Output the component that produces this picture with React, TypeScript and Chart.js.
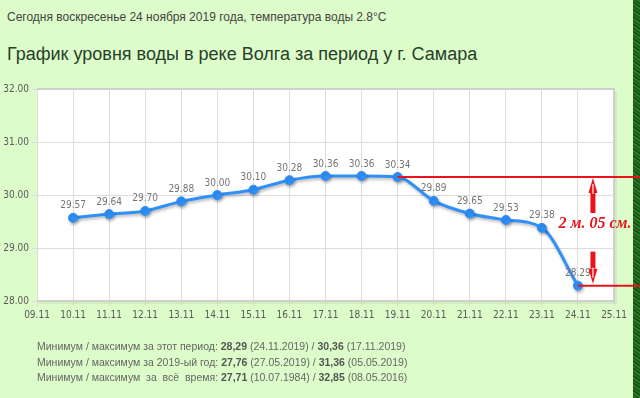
import React, { useEffect, useRef } from "react";
import { Chart, registerables } from "chart.js";

Chart.register(...registerables);

const dates = ["09.11", "10.11", "11.11", "12.11", "13.11", "14.11", "15.11", "16.11", "17.11", "18.11", "19.11", "20.11", "21.11", "22.11", "23.11", "24.11", "25.11"];
const levels: (number | null)[] = [null, 29.57, 29.64, 29.7, 29.88, 30.0, 30.1, 30.28, 30.36, 30.36, 30.34, 29.89, 29.65, 29.53, 29.38, 28.29, null];
const yMin = 28;
const yMax = 32;
const dropFromIndex = 10;
const dropToIndex = 15;
const dropLabel = "2 м. 05 см.";

const headerText = "Сегодня воскресенье 24 ноября 2019 года, температура воды 2.8°C";
const titleText = "График уровня воды в реке Волга за период у г. Самара";
const statLabels = ["Минимум / максимум за этот период: ", "Минимум / максимум за 2019-ый год: ", "Минимум / максимум  за  всё  время: "];
const statMins = ["28,29", "27,76", "27,71"];
const statMinDates = ["24.11.2019", "27.05.2019", "10.07.1984"];
const statMaxs = ["30,36", "31,36", "32,85"];
const statMaxDates = ["17.11.2019", "05.05.2019", "08.05.2016"];

const TICK_FONT = "'DejaVu Sans Condensed', 'Liberation Sans Narrow', 'DejaVu Sans', sans-serif";
const LINE_COLOR = "#2f90fa";

export default function App() {
  const canvasRef = useRef<HTMLCanvasElement | null>(null);

  useEffect(() => {
    const canvas = canvasRef.current;
    if (!canvas) return;

    const plotPlugin = {
      id: "plotDecor",
      beforeDraw(chart: any) {
        const { ctx, chartArea: a } = chart;
        ctx.save();
        ctx.fillStyle = "#ffffff";
        ctx.fillRect(a.left, a.top, a.right - a.left, a.bottom - a.top);
        ctx.restore();
      },
      beforeDatasetsDraw(chart: any) {
        const ctx = chart.ctx;
        ctx.save();
        ctx.shadowColor = "rgba(0,0,0,0.28)";
        ctx.shadowBlur = 3;
        ctx.shadowOffsetX = 1;
        ctx.shadowOffsetY = 2;
      },
      afterDatasetsDraw(chart: any) {
        const ctx = chart.ctx;
        ctx.restore();
        const meta = chart.getDatasetMeta(0);
        ctx.save();
        ctx.font = "10px " + TICK_FONT;
        ctx.fillStyle = "#757575";
        ctx.textAlign = "center";
        ctx.textBaseline = "middle";
        meta.data.forEach((pt: any, i: number) => {
          const v = levels[i];
          if (v === null || v === undefined) return;
          ctx.fillText(v.toFixed(2), pt.x, pt.y - 12);
        });
        ctx.restore();
      },
      afterDraw(chart: any) {
        const { ctx, chartArea: a, scales } = chart;
        ctx.save();
        // frame
        ctx.strokeStyle = "#cfcfcf";
        ctx.lineWidth = 2;
        ctx.beginPath();
        ctx.moveTo(a.left, a.top);
        ctx.lineTo(a.right, a.top);
        ctx.lineTo(a.right, a.bottom);
        ctx.lineTo(a.left, a.bottom);
        ctx.stroke();
        ctx.strokeStyle = "rgba(0,0,0,0.06)";
        ctx.lineWidth = 2;
        ctx.beginPath();
        ctx.moveTo(a.right + 2, a.top + 2);
        ctx.lineTo(a.right + 2, a.bottom + 2);
        ctx.lineTo(a.left + 2, a.bottom + 2);
        ctx.stroke();

        // red annotation
        const xs = scales.x;
        const ys = scales.y;
        const x1 = xs.getPixelForValue(dropFromIndex);
        const x2 = xs.getPixelForValue(dropToIndex);
        const yTop = ys.getPixelForValue(levels[dropFromIndex] as number);
        const yBot = ys.getPixelForValue(levels[dropToIndex] as number);
        const W = chart.width;
        const red = "#e8141c";
        ctx.strokeStyle = red;
        ctx.lineWidth = 2;
        ctx.beginPath();
        ctx.moveTo(x1, yTop);
        ctx.lineTo(W, yTop);
        ctx.moveTo(x2, yBot);
        ctx.lineTo(W, yBot);
        ctx.stroke();

        const ax = x2 + 15;
        const drawArrow = (tipY: number, tailY: number) => {
          const dir = tailY > tipY ? 1 : -1;
          const headLen = 15;
          ctx.fillStyle = red;
          ctx.fillRect(ax - 2.5, Math.min(tipY + dir * headLen, tailY), 5, Math.abs(tailY - (tipY + dir * headLen)));
          ctx.beginPath();
          ctx.moveTo(ax, tipY);
          ctx.lineTo(ax - 4.5, tipY + dir * headLen);
          ctx.lineTo(ax + 4.5, tipY + dir * headLen);
          ctx.closePath();
          ctx.fill();
          ctx.strokeStyle = "rgba(255,255,255,0.95)";
          ctx.lineWidth = 1.2;
          ctx.beginPath();
          ctx.moveTo(ax, tipY + dir * 6);
          ctx.lineTo(ax, tipY + dir * (headLen + 1));
          ctx.stroke();
        };
        drawArrow(yTop + 1, yTop + 36);
        drawArrow(yBot - 2, yBot - 34);

        ctx.fillStyle = red;
        ctx.font = "italic bold 16px 'Liberation Serif', 'Times New Roman', serif";
        ctx.textAlign = "center";
        ctx.textBaseline = "alphabetic";
        ctx.fillText(dropLabel, ax + 2, (yTop + yBot) / 2 - 3);
        ctx.restore();
      },
    };

    const chart = new Chart(canvas, {
      type: "line",
      data: {
        labels: dates,
        datasets: [
          {
            data: levels,
            borderColor: LINE_COLOR,
            backgroundColor: LINE_COLOR,
            borderWidth: 3,
            pointRadius: 4.5,
            pointBackgroundColor: LINE_COLOR,
            pointBorderColor: LINE_COLOR,
            pointBorderWidth: 1,
            cubicInterpolationMode: "monotone",
            fill: false,
            spanGaps: false,
          },
        ],
      },
      options: {
        responsive: false,
        animation: false,
        layout: { padding: { top: 89, right: 26, bottom: 75, left: 0 } },
        plugins: { legend: { display: false }, tooltip: { enabled: false } },
        scales: {
          x: {
            type: "category",
            offset: false,
            afterFit: (s: any) => {
              s.height = 22;
            },
            grid: { color: "#dddddd", lineWidth: 1, tickLength: 5, drawTicks: true },
            border: { display: false },
            ticks: {
              autoSkip: false,
              maxRotation: 0,
              minRotation: 0,
              padding: 3,
              color: "#5a5a5a",
              font: { family: TICK_FONT, size: 10 },
            },
          },
          y: {
            min: yMin,
            max: yMax,
            afterFit: (s: any) => {
              s.width = 37;
            },
            grid: { color: "#dddddd", lineWidth: 1, tickLength: 5, drawTicks: true },
            border: { display: false },
            ticks: {
              stepSize: 1,
              padding: 3,
              color: "#5a5a5a",
              font: { family: TICK_FONT, size: 10 },
              callback: (v: any) => Number(v).toFixed(2),
            },
          },
        },
      } as any,
      plugins: [plotPlugin],
    });

    return () => chart.destroy();
  }, []);

  const textFont = "'Liberation Sans', Arial, sans-serif";

  return (
    <div
      style={{
        position: "fixed",
        left: 0,
        top: 0,
        width: 640,
        height: 398,
        overflow: "hidden",
        background: "#dcfcc9",
        fontFamily: textFont,
      }}
    >
      <div
        style={{
          position: "absolute",
          left: 633,
          top: 0,
          width: 7,
          height: 398,
          background:
            "repeating-linear-gradient(35deg, #0e3f0e 0px, #2b7a24 2px, #154f14 3px, #3a8a2c 5px, #0f4510 6px)",
        }}
      />
      <div
        style={{
          position: "absolute",
          left: 7,
          top: 10,
          fontSize: 12,
          lineHeight: "15px",
          color: "#444",
          whiteSpace: "pre",
        }}
      >
        {headerText}
      </div>
      <div
        style={{
          position: "absolute",
          left: 7,
          top: 44,
          fontSize: 18,
          lineHeight: "21px",
          color: "#26402a",
          whiteSpace: "pre",
        }}
      >
        {titleText}
      </div>
      <canvas
        ref={canvasRef}
        width={640}
        height={398}
        style={{ position: "absolute", left: 0, top: 0, width: 640, height: 398 }}
      />
      <div
        style={{
          position: "absolute",
          left: 37,
          top: 339,
          fontSize: 10.5,
          lineHeight: "15.5px",
          color: "#666",
          whiteSpace: "pre",
        }}
      >
        {statLabels.map((lab, i) => (
          <div key={i}>
            {lab}
            <b style={{ color: "#555" }}>{statMins[i]}</b>
            {" (" + statMinDates[i] + ") / "}
            <b style={{ color: "#555" }}>{statMaxs[i]}</b>
            {" (" + statMaxDates[i] + ")"}
          </div>
        ))}
      </div>
    </div>
  );
}
